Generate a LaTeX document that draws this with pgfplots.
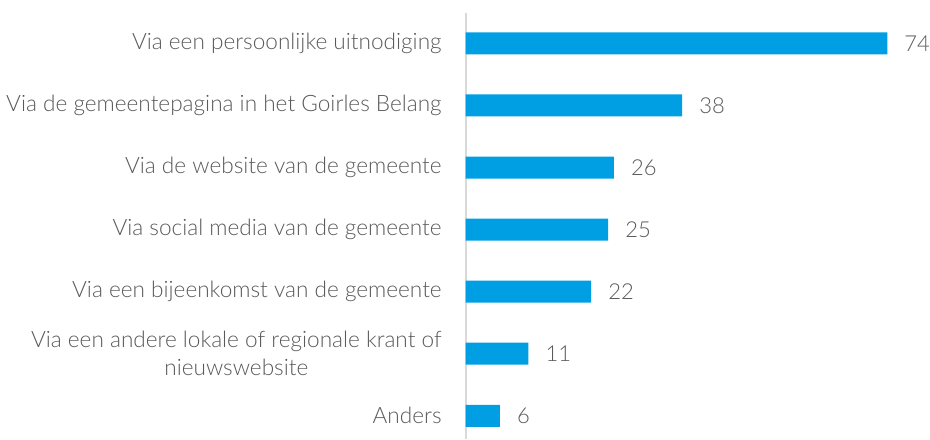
\documentclass[border=0pt]{standalone}
\usepackage{pgfplots}
\pgfplotsset{compat=1.18}
\usepackage{fontspec}
\setmainfont{Lato}[UprightFont=* Light]
\definecolor{barblue}{HTML}{009FE3}
\definecolor{txtgray}{HTML}{595959}
\definecolor{axgray}{HTML}{D9D9D9}
\begin{document}
\begin{tikzpicture}
\begin{axis}[
  scale only axis,
  width=456pt, height=426pt,
  xbar, bar width=22pt,
  xmin=0, xmax=80,
  ymin=-0.49, ymax=6.37,
  y dir=reverse,
  axis x line=none,
  axis y line*=left,
  y axis line style={draw=axgray, line width=1.6pt},
  ytick={0,1,2,3,4,5,6},
  yticklabels={Via een persoonlijke uitnodiging,Via de gemeentepagina in het Goirles Belang,Via de website van de gemeente,Via social media van de gemeente,Via een bijeenkomst van de gemeente,{Via een andere lokale of regionale krant of\\nieuwswebsite},Anders},
  major tick length=0pt,
  yticklabel style={font=\fontsize{22.6}{28}\selectfont, text=txtgray, align=center, inner sep=0pt, xshift=-24pt},
  nodes near coords,
  nodes near coords style={font=\fontsize{22}{28}\selectfont, text=txtgray, anchor=west, inner sep=0pt, xshift=17pt},
  point meta=explicit symbolic,
  clip=false,
]
\addplot[fill=barblue, draw=none] coordinates {
(74,0) [74]
(38,1) [38]
(26,2) [26]
(25,3) [25]
(22,4) [22]
(11,5) [11]
(6,6) [6]
};
\end{axis}
\path (current axis.south west) ++(-466pt,0pt) coordinate (bbsw);
\path (current axis.north east) ++(8pt,13pt) coordinate (bbne);
\useasboundingbox (bbsw) rectangle (bbne);
\end{tikzpicture}
\end{document}
